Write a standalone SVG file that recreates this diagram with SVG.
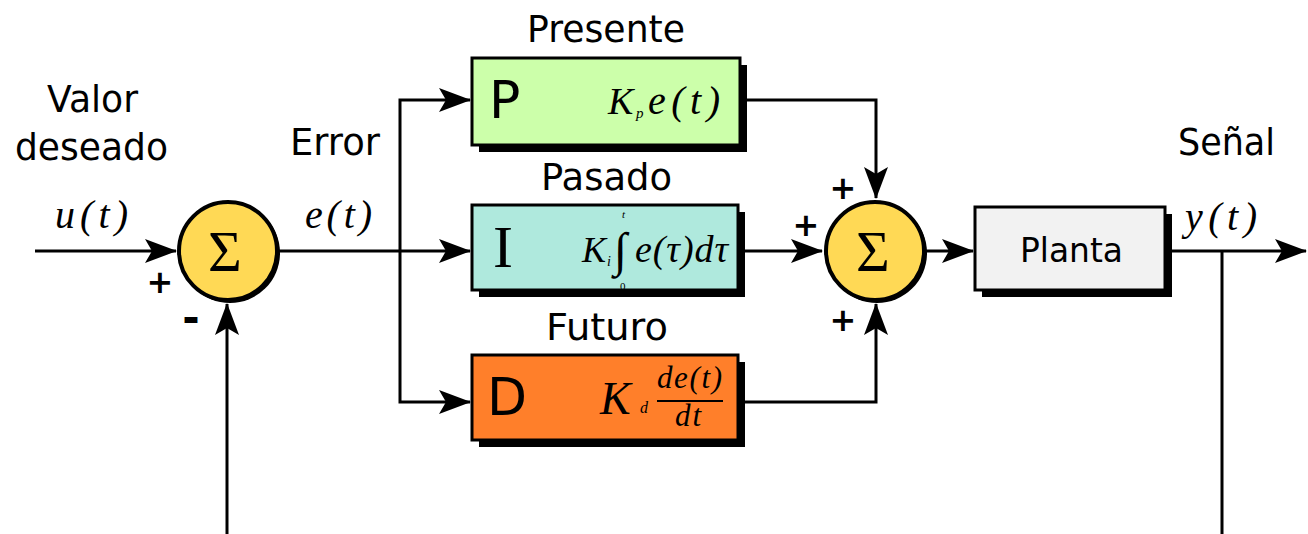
<svg xmlns="http://www.w3.org/2000/svg" width="1308" height="534" viewBox="0 0 1308 534">
<style>
.lbl{font-family:"DejaVu Sans",Verdana,sans-serif;fill:#000}
.math{font-family:"Liberation Serif","Times New Roman",serif;font-style:italic;fill:#000}
.rm{font-family:"Liberation Serif","Times New Roman",serif;fill:#000}
.box{stroke:#000;stroke-width:3}
.shadow{fill:#000}
.wire{fill:none;stroke:#000;stroke-width:3}
.sum{fill:#ffd955;stroke:#000;stroke-width:4}
.sign{font-family:"DejaVu Sans",sans-serif;font-weight:bold;fill:#000}
</style>
<defs>
<marker id="ah" viewBox="0 0 32 24" refX="31" refY="12" markerWidth="32" markerHeight="24" markerUnits="userSpaceOnUse" orient="auto">
<path d="M0,0 L32,12 L0,24 L7,12 Z" fill="#000"/>
</marker>
</defs>

<g id="connectors">
<path class="wire" d="M35,251 H176" marker-end="url(#ah)"/>
<path class="wire" d="M227,534 V304" marker-end="url(#ah)"/>
<path class="wire" d="M278,251 H470" marker-end="url(#ah)"/>
<path class="wire" d="M400,251 V100 H470" marker-end="url(#ah)"/>
<path class="wire" d="M400,251 V402 H470" marker-end="url(#ah)"/>
<path class="wire" d="M740,100 H876 V198" marker-end="url(#ah)"/>
<path class="wire" d="M738,251 H822" marker-end="url(#ah)"/>
<path class="wire" d="M738,402 H876 V304" marker-end="url(#ah)"/>
<path class="wire" d="M926,251 H973" marker-end="url(#ah)"/>
<path class="wire" d="M1165,251 H1306" marker-end="url(#ah)"/>
<path class="wire" d="M1222,251 V534"/>
</g>

<g id="sum1">
<circle cx="230" cy="253" r="50" fill="#000"/>
<circle class="sum" cx="228" cy="251" r="49"/>
<text class="rm" x="225" y="271" style="font-size:58px" text-anchor="middle">Σ</text>
<text class="sign" x="160" y="293" style="font-size:32px" text-anchor="middle">+</text>
<text class="sign" x="191" y="332" style="font-size:42px" text-anchor="middle">-</text>
</g>

<g id="sum2">
<circle cx="877" cy="253" r="50" fill="#000"/>
<circle class="sum" cx="875" cy="251" r="49"/>
<text class="rm" x="873" y="271" style="font-size:58px" text-anchor="middle">Σ</text>
<text class="sign" x="843" y="199" style="font-size:32px" text-anchor="middle">+</text>
<text class="sign" x="806" y="236" style="font-size:32px" text-anchor="middle">+</text>
<text class="sign" x="843" y="331" style="font-size:32px" text-anchor="middle">+</text>
</g>

<g id="boxP">
<rect class="shadow" x="479" y="65" width="268" height="87"/>
<rect class="box" x="472" y="58" width="268" height="87" fill="#ccffaa"/>
<text class="lbl" x="489" y="118" style="font-size:52px">P</text>
<text class="math" x="608" y="114" style="font-size:38px">K</text>
<text class="math" x="636" y="118" style="font-size:15px">p</text>
<text class="math" x="648" y="114" style="font-size:40px" textLength="72" lengthAdjust="spacing">e(t)</text>
</g>

<g id="boxI">
<rect class="shadow" x="479" y="212" width="266" height="85"/>
<rect class="box" x="472" y="205" width="266" height="85" fill="#afe9dd"/>
<text class="rm" x="493" y="267" style="font-size:60px">I</text>
<text class="math" x="582" y="262" style="font-size:36px">K</text>
<text class="math" x="607" y="266" style="font-size:14px">i</text>
<text class="rm" x="614" y="266" style="font-size:48px">∫</text>
<text class="math" x="622" y="218" style="font-size:11px">t</text>
<text class="rm" x="620" y="290" style="font-size:11px">0</text>
<text class="math" x="635" y="262" style="font-size:38px" textLength="93" lengthAdjust="spacing">e(τ)dτ</text>
</g>

<g id="boxD">
<rect class="shadow" x="479" y="362" width="266" height="85"/>
<rect class="box" x="472" y="355" width="266" height="85" fill="#ff7f2a"/>
<text class="lbl" x="487" y="415" style="font-size:52px">D</text>
<text class="math" x="600" y="414" style="font-size:46px">K</text>
<text class="math" x="640" y="413" style="font-size:16px">d</text>
<text class="math" x="657" y="388" style="font-size:31px" textLength="65" lengthAdjust="spacing">de(t)</text>
<line x1="657" y1="401" x2="723" y2="401" stroke="#000" stroke-width="2"/>
<text class="math" x="675" y="426" style="font-size:31px" textLength="26" lengthAdjust="spacing">dt</text>
</g>

<g id="planta">
<rect class="shadow" x="982" y="214" width="190" height="83"/>
<rect class="box" x="975" y="207" width="190" height="83" fill="#f2f2f2"/>
<text class="lbl" x="1020" y="262" style="font-size:34px" textLength="103" lengthAdjust="spacingAndGlyphs">Planta</text>
</g>

<g id="labels" style="font-size:38px">
<text class="lbl" x="47" y="112" textLength="91" lengthAdjust="spacingAndGlyphs">Valor</text>
<text class="lbl" x="15" y="160" textLength="153" lengthAdjust="spacingAndGlyphs">deseado</text>
<text class="lbl" x="290" y="155" textLength="90" lengthAdjust="spacingAndGlyphs">Error</text>
<text class="lbl" x="527" y="42" textLength="158" lengthAdjust="spacingAndGlyphs">Presente</text>
<text class="lbl" x="541" y="190" textLength="131" lengthAdjust="spacingAndGlyphs">Pasado</text>
<text class="lbl" x="546" y="340" textLength="122" lengthAdjust="spacingAndGlyphs">Futuro</text>
<text class="lbl" x="1178" y="155" textLength="97" lengthAdjust="spacingAndGlyphs">Señal</text>
<text class="math" x="55" y="228" style="font-size:40px" textLength="73" lengthAdjust="spacing">u(t)</text>
<text class="math" x="305" y="228" style="font-size:40px" textLength="67" lengthAdjust="spacing">e(t)</text>
<text class="math" x="1185" y="230" style="font-size:40px" textLength="72" lengthAdjust="spacing">y(t)</text>
</g>
</svg>
